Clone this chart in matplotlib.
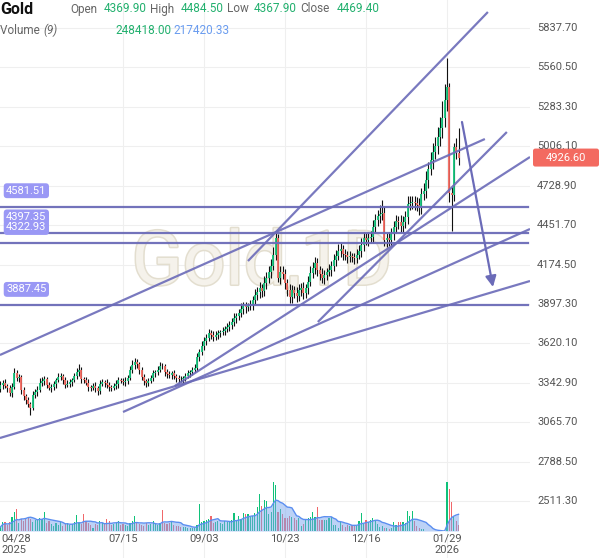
import matplotlib
matplotlib.use('Agg')
import matplotlib.pyplot as plt
import matplotlib.patheffects as pe
from matplotlib.patches import FancyBboxPatch
import numpy as np
import pandas as pd

plt.rcParams['font.family'] = ['Roboto', 'DejaVu Sans']

# daily closes, 04/28/2025 .. early 02/2026 (one value per bar)
closes = [3327, 3341, 3320, 3306, 3271, 3313, 3411, 3376, 3380, 3292,
          3250, 3222, 3194, 3166, 3257, 3278, 3292, 3341, 3355, 3369,
          3327, 3306, 3310, 3334, 3362, 3383, 3390, 3362, 3327, 3334,
          3348, 3362, 3390, 3418, 3433, 3369, 3362, 3341, 3313, 3306,
          3320, 3306, 3285, 3334, 3348, 3341, 3327, 3313, 3306, 3320,
          3334, 3362, 3355, 3348, 3355, 3376, 3433, 3468, 3489, 3475,
          3433, 3383, 3355, 3341, 3355, 3376, 3411, 3418, 3433, 3461,
          3458, 3418, 3404, 3397, 3411, 3390, 3376, 3369, 3366, 3376,
          3390, 3411, 3418, 3433, 3447, 3524, 3559, 3601, 3637, 3658,
          3693, 3679, 3665, 3679, 3693, 3700, 3707, 3721, 3735, 3749,
          3770, 3798, 3812, 3833, 3862, 3883, 3876, 3883, 3890, 3925,
          3960, 3981, 4009, 3988, 4045, 4080, 4122, 4164, 4241, 4361,
          4080, 4122, 4108, 4045, 3995, 3946, 3995, 3974, 3953, 3995,
          4009, 3974, 4009, 4052, 4115, 4150, 4185, 4136, 4108, 4080,
          4101, 4122, 4136, 4164, 4206, 4234, 4269, 4283, 4248, 4241,
          4227, 4232, 4225, 4220, 4241, 4269, 4312, 4361, 4347, 4361,
          4368, 4438, 4488, 4516, 4530, 4537, 4347, 4361, 4347, 4389,
          4438, 4480, 4473, 4445, 4473, 4509, 4600, 4607, 4614, 4610,
          4593, 4572, 4670, 4691, 4769, 4846, 4909, 4966, 5008, 5071,
          5134, 5205, 5331, 5420, 4677, 4663, 5001, 4958, 4926.6]
first_open = 3300

wick_up = [25, 20, 30, 15, 20, 25, 35, 20, 25, 15,
           20, 15, 20, 15, 25, 20, 30, 35, 25, 20,
           15, 20, 25, 20, 15, 30, 20, 15, 20, 25,
           20, 15, 25, 30, 42, 20, 15, 20, 25, 15,
           20, 25, 15, 30, 20, 15, 25, 20, 15, 20,
           25, 20, 15, 20, 25, 20, 30, 35, 25, 20,
           15, 20, 25, 15, 20, 25, 20, 15, 30, 25,
           20, 15, 20, 25, 15, 20, 15, 20, 25, 15,
           20, 25, 15, 20, 25, 30, 20, 35, 25, 30,
           25, 20, 30, 25, 20, 15, 25, 20, 30, 25,
           30, 35, 25, 30, 40, 25, 30, 20, 35, 30,
           40, 35, 45, 30, 50, 40, 45, 50, 55, 35,
           30, 45, 40, 35, 30, 40, 35, 30, 45, 40,
           35, 40, 30, 45, 50, 40, 45, 35, 30, 40,
           35, 30, 40, 35, 45, 40, 50, 40, 30, 35,
           30, 35, 25, 30, 40, 45, 50, 40, 35, 40,
           45, 50, 40, 45, 60, 90, 40, 35, 45, 40,
           45, 40, 35, 50, 40, 45, 55, 50, 40, 45,
           40, 50, 45, 55, 60, 50, 55, 60, 65, 70,
           80, 120, 110, 207, 30, 40, 25, 60, 180]

wick_dn = [20, 25, 15, 30, 20, 25, 15, 20, 30, 25,
           25, 30, 20, 50, 15, 20, 25, 15, 20, 25,
           20, 15, 25, 20, 30, 15, 20, 25, 20, 15,
           20, 25, 15, 20, 25, 30, 20, 15, 25, 20,
           15, 25, 30, 20, 15, 25, 20, 30, 20, 15,
           20, 25, 15, 20, 25, 20, 15, 20, 25, 30,
           25, 20, 30, 25, 20, 15, 20, 25, 20, 15,
           20, 25, 30, 20, 25, 20, 30, 25, 20, 25,
           20, 15, 25, 20, 15, 20, 25, 20, 30, 25,
           20, 30, 25, 20, 25, 30, 20, 25, 20, 30,
           25, 30, 35, 25, 30, 35, 40, 30, 25, 35,
           30, 35, 40, 45, 35, 40, 35, 40, 30, 35,
           25, 40, 35, 45, 40, 40, 45, 35, 40, 35,
           40, 45, 35, 40, 30, 35, 40, 45, 40, 35,
           40, 35, 30, 40, 35, 45, 30, 40, 45, 35,
           40, 35, 30, 40, 35, 30, 45, 40, 35, 40,
           35, 40, 45, 40, 50, 40, 45, 50, 40, 45,
           40, 45, 50, 40, 45, 40, 50, 45, 40, 50,
           45, 50, 40, 45, 50, 55, 45, 60, 50, 55,
           60, 70, 65, 80, 60, 255, 40, 45, 52]

# volume in thousands (gap before 01/29 had no volume data)
volumes = [80, 180, 180, 120, 180, 280, 380, 440, 160, 240,
           200, 260, 280, 240, 180, 220, 220, 260, 240, 380,
           160, 200, 140, 100, 160, 120, 180, 100, 140, 160,
           120, 140, 180, 320, 160, 140, 340, 200, 160, 120,
           60, 140, 120, 200, 160, 140, 240, 200, 120, 140,
           160, 200, 120, 140, 120, 100, 160, 200, 300, 180,
           140, 120, 100, 160, 120, 140, 200, 160, 120, 160,
           420, 160, 140, 160, 200, 120, 100, 100, 80, 80,
           80, 60, 60, 60, 60, 120, 540, 180, 200, 220,
           240, 300, 160, 180, 200, 160, 140, 200, 180, 200,
           220, 360, 200, 300, 240, 360, 340, 340, 280, 300,
           360, 480, 740, 500, 620, 600, 340, 380, 980, 920,
           380, 440, 340, 260, 260, 300, 280, 260, 220, 260,
           100, 140, 240, 260, 280, 380, 280, 480, 220, 220,
           220, 220, 260, 280, 120, 120, 60, 180, 120, 80,
           120, 100, 120, 120, 120, 200, 360, 160, 220, 180,
           220, 260, 200, 140, 80, 100, 60, 60, 40, 60,
           180, 120, 180, 180, 180, 160, 400, 300, 400, 200,
           100, 60, 40, 40, 0, 0, 0, 0, 0, 0,
           0, 0, 0, 980, 840, 580, 280, 200, 120]

tick_idx = [0, 53, 88, 123, 158, 193]
tick_lab = ['04/28', '07/15', '09/03', '10/23', '12/16', '01/29']
price_ticks = [5837.70, 5560.50, 5283.30, 5006.10, 4728.90, 4451.70, 4174.50,
               3897.30, 3620.10, 3342.90, 3065.70, 2788.50, 2511.30]
levels = [4581.51, 4397.35, 4322.93, 3887.45]
last_price = 4926.60

# drawn trend lines as (bar index, price) end points
trend_lines = [
    ((107.0, 4199.2), (210.7, 5950.2)),
    ((-0.2, 3538.2), (209.4, 5057.1)),
    ((137.2, 3770.3), (218.9, 5106.4)),
    ((75.4, 3320.2), (228.9, 4930.6)),
    ((53.0, 3137.4), (228.9, 4424.3)),
    ((-0.2, 2954.6), (228.9, 4058.6)),
]
arrow_pts = ((199.5, 5176.7), (212.9, 4016.4))

W, H = 600, 558
fig = plt.figure(figsize=(W / 100, H / 100), dpi=100)
ax = fig.add_axes([0, 0, 530 / W, 1])
ax.set_xlim(-0.17, 228.9)
ax.set_ylim(2110.7, 6034.6)
ax.axis('off')

grid_c = '#efefef'
for p in price_ticks:
    ax.axhline(p, color=grid_c, lw=0.8, zorder=0)
for t in tick_idx[1:]:
    ax.axvline(t, color=grid_c, lw=0.8, zorder=0)

# watermark, behind the candles
ax.text(262 / W, 1 - 264 / H, 'Gold,1D', transform=fig.transFigure, fontsize=54,
        color='#f5f2eb', ha='center', va='center', zorder=1, clip_on=False,
        path_effects=[pe.withStroke(linewidth=2.2, foreground='#e3decf')])

# candles
idx = np.arange(len(closes))
c = np.array(closes, dtype=float)
o = np.concatenate([[first_open], c[:-1]])
hi = np.maximum(o, c) + np.array(wick_up)
lo = np.minimum(o, c) - np.array(wick_dn)
up = c >= o
green, red = '#12c27a', '#f2665c'
ax.vlines(idx, lo, hi, color='#111111', lw=0.8, zorder=4)
ax.vlines(idx, o, c, color=np.where(up, green, red), lw=1.3, zorder=5)

# horizontal levels
line_c = '#6b6bb8'
for lv in levels:
    ax.axhline(lv, xmax=528 / 530, color=line_c, lw=1.6, alpha=0.95, zorder=6)
    ax.text(2.5, lv + 112, f'{lv:.2f}', fontsize=8, color='white', ha='left', va='center',
            zorder=8, bbox=dict(boxstyle='round,pad=0.22,rounding_size=0.3',
                                fc='#9a98f5', ec='none'))

for (x0, y0), (x1, y1) in trend_lines:
    ax.plot([x0, x1], [y0, y1], color=line_c, lw=1.6, alpha=0.9, zorder=6,
            solid_capstyle='butt')
ax.annotate('', xy=arrow_pts[1], xytext=arrow_pts[0], zorder=7,
            arrowprops=dict(arrowstyle='-|>', color=line_c, lw=1.6,
                            mutation_scale=16, shrinkA=0, shrinkB=0))

# volume pane
vax = fig.add_axes([0, 27 / H, 530 / W, 100 / H])
vax.set_xlim(ax.get_xlim())
vax.set_ylim(0, 2000)
vax.axis('off')
vax.patch.set_alpha(0)
vol = pd.Series(volumes, dtype=float)
ma = vol.rolling(9, min_periods=1).mean()
vax.bar(idx, vol, width=0.5, color=np.where(up, '#10c27a', '#f0686a'), zorder=2)
vax.fill_between(idx, ma, color='#7aa6ee', alpha=0.5, lw=0, zorder=3)
vax.plot(idx, ma, color='#5b8ef0', lw=1.0, zorder=4)

# price axis labels
for p in price_ticks:
    fig.text(537 / W, ax.transData.transform((0, p))[1] / H, f'{p:.2f}',
             fontsize=8, color='#555555', ha='left', va='center')

# last price tag
tag_y = ax.transData.transform((0, last_price))[1] / H
fig.patches.append(FancyBboxPatch((533 / W, tag_y - 9 / H), 66 / W, 18 / H,
                                  boxstyle='round,pad=0,rounding_size=0.004',
                                  transform=fig.transFigure, fc='#f36a60', ec='none'))
fig.text(566 / W, tag_y, f'{last_price:.2f}', fontsize=8, color='white',
         ha='center', va='center')

# date labels
for t, lab in zip(tick_idx, tick_lab):
    xf = ax.transData.transform((t, 0))[0] / W
    ha = 'left' if t == 0 else 'center'
    fig.text(xf if t else 1 / W, 1 - 539 / H, lab, fontsize=8, color='#555555',
             ha=ha, va='center')
fig.text(1 / W, 1 - 550 / H, '2025', fontsize=8, color='#555555', ha='left', va='center')
fig.text(ax.transData.transform((193, 0))[0] / W, 1 - 550 / H, '2026', fontsize=8,
         color='#555555', ha='center', va='center')

# header
gray, tgreen, tblue = '#666666', '#22b06e', '#6a9cef'
fig.text(0, 1 - 9 / H, 'Gold', fontsize=11.5, fontweight='bold', color='#111111',
         ha='left', va='center')
row1 = [(70, 'Open', gray), (104, '4369.90', tgreen), (150, 'High', gray),
        (181, '4484.50', tgreen), (227, 'Low', gray), (254, '4367.90', tgreen),
        (300, 'Close', gray), (337, '4469.40', tgreen)]
for x, s, col in row1:
    fig.text(x / W, 1 - 9 / H, s, fontsize=8.5, color=col, ha='left', va='center')
fig.text(0, 1 - 30 / H, 'Volume ', fontsize=8.5, color=gray, ha='left', va='center')
fig.text(43 / W, 1 - 30 / H, '(9)', fontsize=8.5, color=gray, style='italic',
         ha='left', va='center')
fig.text(115 / W, 1 - 30 / H, '248418.00', fontsize=8.5, color=tgreen, ha='left', va='center')
fig.text(173 / W, 1 - 30 / H, '217420.33', fontsize=8.5, color=tblue, ha='left', va='center')

fig.savefig('out.png', dpi=100, facecolor='white')
